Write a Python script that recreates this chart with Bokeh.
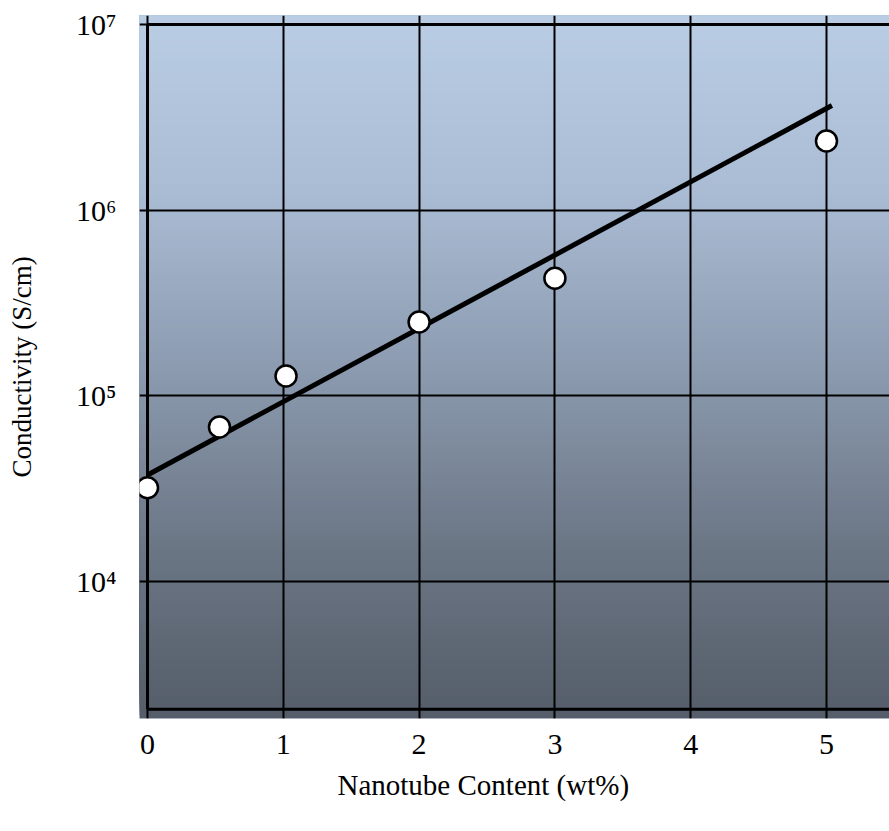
import numpy as np
from bokeh.plotting import figure
from bokeh.models import FixedTicker, Range1d, Title
from bokeh.embed import file_html
from bokeh.resources import INLINE

# ---- data ----
content = [0.0, 0.53, 1.02, 2.0, 3.0, 5.0]               # wt%
conductivity = [3.2e4, 6.8e4, 1.28e5, 2.5e5, 4.3e5, 2.36e6]  # S/cm
fit_content = [0.0, 5.04]
fit_conductivity = [3.75e4, 3.66e6]

x_ticks = [0, 1, 2, 3, 4, 5]
y_ticks = [1e4, 1e5, 1e6, 1e7]
y_tick_labels = ["10⁴", "10⁵", "10⁶", "10⁷"]

x_title = "Nanotube Content (wt%)"
y_title = "Conductivity (S/cm)"

x_start, x_end = -0.059, 5.464
y_lo_exp, y_hi_exp = 3.2625, 7.0485
frame_bottom_value = 2050

FONT = "Liberation Serif"

p = figure(width=889, height=831, output_backend="svg", toolbar_location=None,
           y_axis_type="log",
           x_range=Range1d(x_start, x_end),
           y_range=Range1d(10 ** y_lo_exp, 10 ** y_hi_exp),
           min_border_left=139, min_border_right=0,
           min_border_top=15, min_border_bottom=113)
p.outline_line_color = None
p.background_fill_color = "#8d9db4"

# ---- vertical gradient background (stacked bands, bottom first) ----
n = 200
edges = np.linspace(y_lo_exp, y_hi_exp, n + 1)
stops_t = [0.0, 0.25, 0.5, 0.75, 1.0]   # 0 = top, 1 = bottom
stops_c = [(185, 205, 229), (170, 188, 212), (140, 155, 176), (108, 119, 134), (84, 93, 105)]
colors = []
for i in range(n):
    mid = (edges[i] + edges[i + 1]) / 2
    t = (y_hi_exp - mid) / (y_hi_exp - y_lo_exp)
    rgb = [int(round(np.interp(t, stops_t, [c[k] for c in stops_c]))) for k in range(3)]
    colors.append("#%02x%02x%02x" % tuple(rgb))
p.quad(left=x_start, right=x_end, bottom=10 ** edges[:-1], top=10 ** y_hi_exp,
       fill_color=colors, line_color=None, level="image")

# ---- grid ----
p.xgrid.ticker = FixedTicker(ticks=x_ticks)
p.ygrid.ticker = FixedTicker(ticks=y_ticks)
for g in (p.xgrid, p.ygrid):
    g.grid_line_color = "black"
    g.grid_line_width = 2
    g.grid_line_alpha = 1.0
    g.level = "underlay"

# frame border (left, top, bottom)
p.segment(x0=[0, 0, 0], y0=[frame_bottom_value, 1e7, frame_bottom_value],
          x1=[0, 10, 10], y1=[1e7, 1e7, frame_bottom_value],
          line_color="black", line_width=3)

# ---- fit line and data points ----
p.line(fit_content, fit_conductivity, line_color="black", line_width=5)
p.scatter(content, conductivity, size=21, fill_color="white",
          line_color="black", line_width=2.5)

# ---- axes ----
p.xaxis.ticker = FixedTicker(ticks=x_ticks)
p.yaxis.ticker = FixedTicker(ticks=y_ticks)
p.yaxis.major_label_overrides = {v: s for v, s in zip(y_ticks, y_tick_labels)}
for ax in (p.xaxis[0], p.yaxis[0]):
    ax.axis_line_color = None
    ax.major_tick_line_color = None
    ax.minor_tick_line_color = None
    ax.major_label_text_font = FONT
    ax.major_label_text_font_size = "30px"
    ax.major_label_text_color = "black"
    ax.axis_label_text_font = FONT
    ax.axis_label_text_font_style = "normal"
    ax.axis_label_text_color = "black"

p.xaxis.major_label_standoff = 10

# x title, left-aligned with an offset so it sits centred under 0..5 as in the reference
p.add_layout(Title(text=x_title, align="left", offset=198, standoff=21,
                   text_font=FONT, text_font_size="29px", text_font_style="normal",
                   text_color="black"), "below")

p.yaxis.axis_label = y_title
p.yaxis.axis_label_text_font_size = "27px"
p.yaxis.major_label_standoff = 17
p.yaxis.axis_label_standoff = 36

open("out.html", "w").write(file_html(p, INLINE))
